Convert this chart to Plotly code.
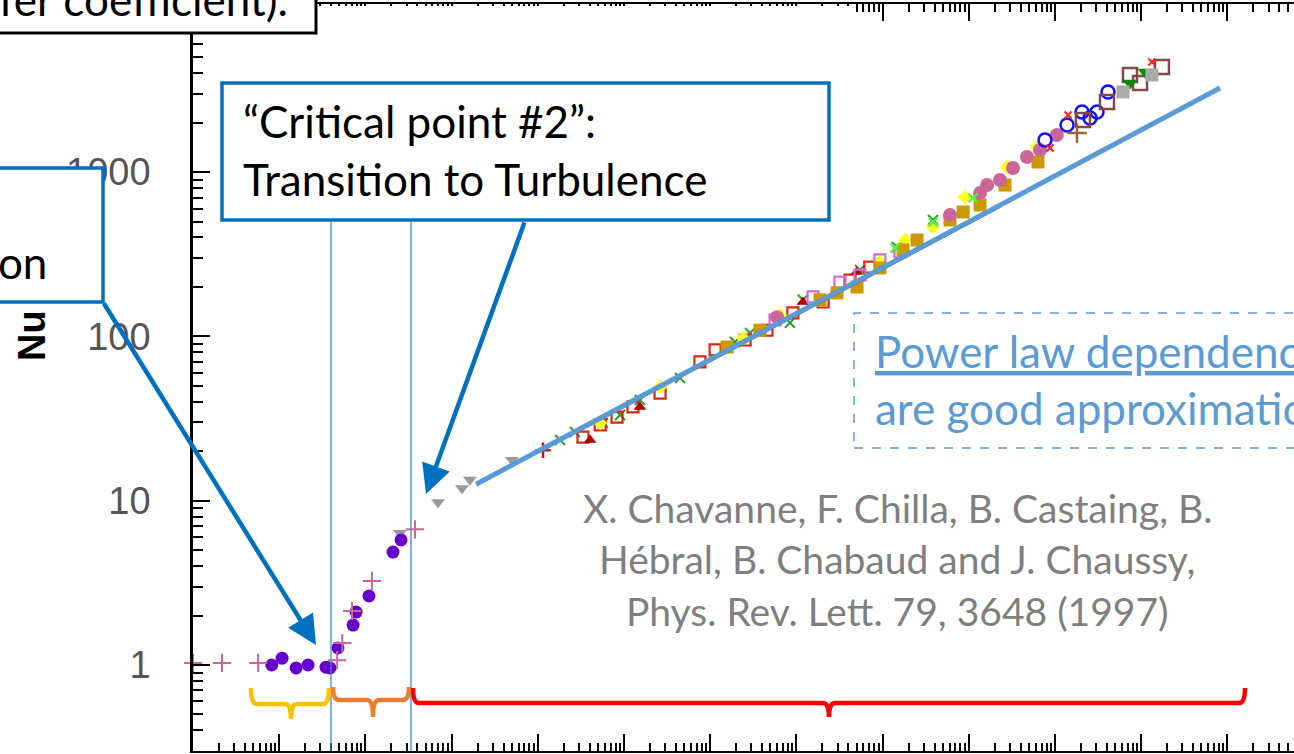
import plotly.graph_objects as go

# ---------------- data: Nu vs Ra (Chavanne et al. 1997) ----------------
pink_cross_ra = [1.0e2, 2.17e2, 5.7e2, 4.7e3, 5.4e3, 7.0e3, 1.19e4, 3.76e4]
pink_cross_nu = [1.03, 1.03, 1.03, 1.07, 1.36, 2.13, 3.25, 6.7]

purple_ra = [8.2e2, 1.08e3, 1.57e3, 2.16e3, 3.49e3, 3.88e3, 4.81e3, 7.2e3, 7.8e3, 1.10e4, 2.09e4, 2.59e4]
purple_nu = [1.0, 1.10, 0.96, 1.0, 0.97, 0.96, 1.27, 1.75, 2.10, 2.63, 4.87, 5.77]

gray_tri_ra = [2.52e4, 6.95e4, 1.32e5, 1.63e5, 5.0e5]
gray_tri_nu = [6.36, 9.8, 11.9, 13.4, 17.7]

red_cross_ra = [1.15e6]
red_cross_nu = [20.3]

green_x_ra = [1.81e6, 2.70e6, 5.7e6, 9.0e6, 1.53e7, 4.47e7, 1.94e8, 2.90e8, 8.4e8, 1.19e9,
              5.47e9, 1.47e10, 3.85e10]
green_x_nu = [23.4, 26.2, 29.7, 33.2, 41.0, 55.8, 92.5, 105, 121, 167, 254, 350, 511]

red_sq_ra = [3.34e6, 5.3e6, 8.3e6, 1.27e7, 2.62e7, 7.6e7, 1.14e8, 2.54e8, 4.56e8, 9.1e8,
             2.04e9, 4.19e9, 7.1e9]
red_sq_nu = [24.4, 28.9, 32.3, 37.2, 45.2, 69.9, 82.7, 95.1, 109, 139, 162, 220, 264]

yellow_ra = [5.3e6, 2.62e7, 2.40e8, 6.46e8, 9.3e9, 1.82e10, 3.85e10, 9.0e10, 2.77e11, 6.2e11]
yellow_nu = [29.7, 49.2, 97.8, 135, 284, 386, 463, 705, 1074, 1422]

darkred_tri_ra = [4.04e6, 1.53e7, 1.19e9, 5.0e9]
darkred_tri_nu = [23.4, 37.2, 162, 247]

magenta_sq_ra = [5.65e8, 1.56e9, 3.2e9, 5.47e9, 9.3e9, 1.59e10]
magenta_sq_nu = [126, 174, 214, 236, 292, 327]

gold_sq_ra = [1.57e8, 3.78e8, 1.88e9, 2.96e9, 5.05e9, 9.3e9, 1.73e10, 2.51e10, 6.05e10,
              8.6e10, 1.35e11, 2.63e11, 6.35e11]
gold_sq_nu = [86.2, 109, 167, 184, 200, 261, 336, 386, 511, 572, 631, 834, 1152]

pink_circ_ra = [5.96e8, 6.05e10, 1.35e11, 1.63e11, 2.30e11, 3.26e11, 4.73e11, 6.7e11, 1.05e12]
pink_circ_nu = [131, 548, 746, 834, 895, 1059, 1236, 1364, 1682]

lime_ra = [1.39e10, 3.85e10, 1.12e11]
lime_nu = [345, 497, 695]

blue_circ_ra = [7.66e11, 1.38e12, 2.06e12, 2.55e12, 3.07e12, 4.12e12]
blue_circ_nu = [1567, 1936, 2323, 2134, 2323, 3075]

brown_sq_ra = [2.11e12, 4.01e12, 7.41e12, 9.7e12, 1.74e13]
brown_sq_nu = [2075, 2673, 3899, 3484, 4363]

green_tri_ra = [7.41e12, 1.11e13]
green_tri_nu = [3484, 4066]

gray_sq_ra = [6.15e12, 1.33e13]
gray_sq_nu = [3075, 3900]

brown_plus_ra = [1.80e12]
brown_plus_nu = [1730]

red_dot_ra = [8.75e11, 1.42e12, 1.33e13]
red_dot_nu = [1403, 2227, 4677]

# fitted lines
fit_ra = [1.06e6, 2.30e11]
fit_nu = [19.8, 613]
power_ra = [1.92e5, 8.2e13]
power_nu = [12.6, 3251]

y_tick_vals = [1, 10, 100, 1000]
y_tick_text = ["1", "10", "100", "1000"]

# ---------------- figure geometry ----------------
W, H = 1294, 754
L, R, T, B = 193, 0, 4, 3
PW, PH = W - L - R, H - T - B


def px(x):
    return (x - L) / PW


def py(y):
    return (H - B - y) / PH


fig = go.Figure()


def add_markers(ra, nu, symbol, color, size, lw=0, clip=True):
    fig.add_trace(go.Scatter(
        x=ra, y=nu, mode="markers", cliponaxis=clip, hoverinfo="skip",
        marker=dict(symbol=symbol, color=color, size=size,
                    line=dict(width=lw, color=color))))


add_markers(green_x_ra, green_x_nu, "x-thin-open", "#2f9a2f", 10, 2)
add_markers(red_sq_ra, red_sq_nu, "square-open", "#d42a10", 11, 2.2)
add_markers(yellow_ra, yellow_nu, "diamond", "#ffff20", 11, 0)
add_markers(darkred_tri_ra, darkred_tri_nu, "triangle-up", "#b00000", 11)
add_markers(magenta_sq_ra, magenta_sq_nu, "square-open", "#d66ad6", 11, 2.2)
add_markers(gold_sq_ra, gold_sq_nu, "square", "#cc9900", 13)
add_markers(pink_circ_ra, pink_circ_nu, "circle", "#cc6699", 14)
add_markers(lime_ra, lime_nu, "x-thin-open", "#40ff30", 9, 2)
add_markers(blue_circ_ra, blue_circ_nu, "circle-open", "#1010ff", 13, 2.5)
add_markers(brown_sq_ra, brown_sq_nu, "square-open", "#874848", 14, 2.5)
add_markers(green_tri_ra, green_tri_nu, "triangle-down", "#0a8a0a", 13)
add_markers(gray_sq_ra, gray_sq_nu, "square", "#aaaaaa", 13)
add_markers(brown_plus_ra, brown_plus_nu, "cross-thin-open", "#9a6630", 14, 2.5)
add_markers(red_dot_ra, red_dot_nu, "x-thin-open", "#ff2020", 7, 2)
add_markers(red_cross_ra, red_cross_nu, "cross-thin-open", "#cc1010", 11, 2.5)
add_markers(gray_tri_ra, gray_tri_nu, "triangle-down", "#9a9a9a", 12)
add_markers(purple_ra, purple_nu, "circle", "#6600cc", 13)
add_markers(pink_cross_ra, pink_cross_nu, "cross-thin-open", "#cc6699", 13, 2, clip=False)

fig.add_trace(go.Scatter(x=fit_ra, y=fit_nu, mode="lines", hoverinfo="skip",
                         line=dict(color="black", width=1.5)))
fig.add_trace(go.Scatter(x=power_ra, y=power_nu, mode="lines", hoverinfo="skip",
                         line=dict(color="#5b9bd5", width=5)))

x_major = [10.0 ** k for k in range(1, 16)]
x_minor = [m * 10.0 ** k for k in range(1, 16) for m in range(2, 10)]
y_minor = [m * 10.0 ** k for k in range(-1, 5) for m in range(2, 10)]

fig.update_layout(
    width=W, height=H, margin=dict(l=L, r=R, t=T, b=B, pad=0),
    paper_bgcolor="white", plot_bgcolor="white", showlegend=False,
    xaxis=dict(type="log", range=[2, 2 + PW / 86.2], showgrid=False, zeroline=False,
               showline=True, linecolor="black", linewidth=2, mirror="ticks",
               ticks="inside", ticklen=17, tickwidth=2, tickcolor="black",
               tickvals=x_major, showticklabels=False,
               minor=dict(ticks="inside", ticklen=8, tickwidth=1.5, tickcolor="black",
                          tickvals=x_minor, showgrid=False)),
    yaxis=dict(type="log", range=[(665 - 751) / 164.3, (665 - 4) / 164.3],
               showgrid=False, zeroline=False,
               showline=True, linecolor="black", linewidth=2.5, mirror=False,
               ticks="inside", ticklen=17, tickwidth=2, tickcolor="black",
               tickvals=y_tick_vals, ticktext=y_tick_text, ticklabelstandoff=32,
               tickfont=dict(family="Liberation Sans", size=38, color="#555555"),
               minor=dict(ticks="inside", ticklen=10, tickwidth=1.5, tickcolor="black",
                          tickvals=y_minor, showgrid=False)),
)

shapes = []
# hide the top tick marks under the heading strip
shapes.append(dict(type="rect", xref="paper", yref="paper", layer="above",
                   x0=px(195), x1=px(852), y0=py(28), y1=py(6),
                   fillcolor="white", line=dict(width=0)))

# regime separators
for xv in (331, 411):
    shapes.append(dict(type="line", xref="paper", yref="paper", layer="above",
                       x0=px(xv), x1=px(xv), y0=py(220), y1=py(751),
                       line=dict(color="#3d8bd0", width=1.3)))


def brace(x0, x1, xm, ytop, yline, ytip, r=6):
    pts = [("M", [(x0, ytop)]),
           ("Q", [(x0, yline), (x0 + r, yline)]),
           ("L", [(xm - r, yline)]),
           ("Q", [(xm, yline), (xm, ytip)]),
           ("Q", [(xm, yline), (xm + r, yline)]),
           ("L", [(x1 - r, yline)]),
           ("Q", [(x1, yline), (x1, ytop)])]
    s = ""
    for cmd, cs in pts:
        s += cmd + " " + " ".join(f"{px(a):.5f},{py(b):.5f}" for a, b in cs) + " "
    return s.strip()


for (x0, x1, xm, ytop, yline, ytip, col) in [
        (251, 329, 291, 688, 704, 719, "#ffc000"),
        (333, 409, 373, 687, 700, 717, "#ed7d31"),
        (413, 1245, 829, 688, 703, 717, "#ff0000")]:
    shapes.append(dict(type="path", xref="paper", yref="paper", layer="above",
                       path=brace(x0, x1, xm, ytop, yline, ytip),
                       line=dict(color=col, width=4.5)))

# text boxes
shapes.append(dict(type="rect", xref="paper", yref="paper", layer="above",
                   x0=px(-10), x1=px(316), y0=py(33), y1=py(-10),
                   fillcolor="white", line=dict(color="black", width=3)))
shapes.append(dict(type="rect", xref="paper", yref="paper", layer="above",
                   x0=px(-10), x1=px(103), y0=py(302), y1=py(168),
                   fillcolor="white", line=dict(color="#0070c0", width=3.5)))
shapes.append(dict(type="rect", xref="paper", yref="paper", layer="above",
                   x0=px(222), x1=px(829), y0=py(220), y1=py(83),
                   fillcolor="white", line=dict(color="#0070c0", width=3.5)))
shapes.append(dict(type="rect", xref="paper", yref="paper", layer="above",
                   x0=px(854), x1=px(1330), y0=py(448), y1=py(313),
                   line=dict(color="#5b9bd5", width=1.5, dash="dash")))
fig.update_layout(shapes=shapes)

TXT = "Lato"
ann = []


def text(s, x, baseline, size, color="black", xanchor="left"):
    ann.append(dict(text=s, xref="paper", yref="paper", x=px(x), y=py(baseline - 0.36 * size),
                    xanchor=xanchor, yanchor="middle", showarrow=False,
                    font=dict(family=TXT, size=size, color=color)))


text("Nusselt number (heat transfer coefficient).", 290, 15, 44, xanchor="right")
text("Onset of convection", 49, 278, 44, xanchor="right")
text("“Critical point #2”:", 241, 137, 44)
text("Transition to Turbulence", 241, 195, 44)
text("<u>Power law dependencies</u>", 873, 367, 44, color="#5b9bd5")
text("are good approximations", 873, 424, 44, color="#5b9bd5")
for s, b in [("X. Chavanne, F. Chilla, B. Castaing, B.", 522),
             ("Hébral, B. Chabaud and J. Chaussy,", 573),
             ("Phys. Rev. Lett. 79, 3648 (1997)", 625)]:
    text(s, 897, b, 39, color="#7f7f7f", xanchor="center")

ann.append(dict(text="<b>Nu</b>", xref="paper", yref="paper", x=px(32), y=py(336),
                xanchor="center", yanchor="middle", textangle=-90, showarrow=False,
                font=dict(family="Liberation Sans", size=38, color="black")))

# pointer arrows
for tip, tail in [((316, 645), (103, 302)), ((426, 494), (525, 221))]:
    ann.append(dict(text="", xref="paper", yref="paper", x=px(tip[0]), y=py(tip[1]),
                    ax=tail[0] - tip[0], ay=tail[1] - tip[1], showarrow=True,
                    arrowhead=2, arrowsize=1.3, arrowwidth=4.5, arrowcolor="#0070c0"))

fig.update_layout(annotations=ann)
fig.write_html("out.html")
